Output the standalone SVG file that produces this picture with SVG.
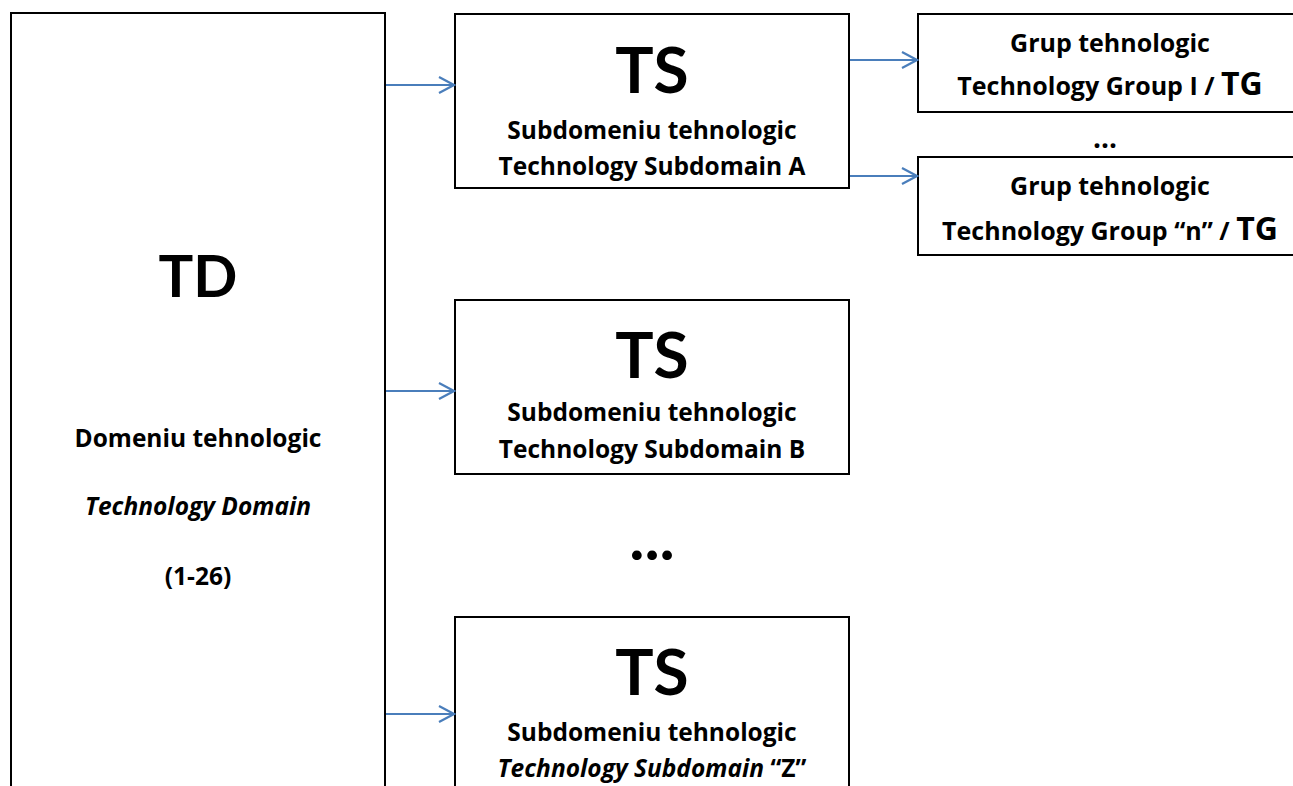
<svg xmlns="http://www.w3.org/2000/svg" width="1293" height="786" viewBox="0 0 1293 786">
<defs>
<marker id="ah" viewBox="0 0 20 20" refX="18" refY="10" markerWidth="20" markerHeight="20" markerUnits="userSpaceOnUse" orient="auto">
<path d="M3,2 L18,10 L3,18" fill="none" stroke="#4a7ebb" stroke-width="2.2"/>
</marker>
<style>
.box{fill:#fff;stroke:#000;stroke-width:2}
.t{font-family:"Open Sans","Liberation Sans",sans-serif;font-weight:bold;fill:#000;text-anchor:middle}
.m{font-size:24.5px}
.g{font-size:25px}
.big{font-family:Lato,"Open Sans",sans-serif;font-size:64px}
.i{font-style:italic}
.c{stroke:#4a7ebb;stroke-width:2.2;fill:none;marker-end:url(#ah)}
</style>
</defs>
<rect width="1293" height="786" fill="#fff"/>
<g id="td">
<rect class="box" x="11" y="13" width="374" height="790"/>
<text class="t big" x="198" y="297" style="font-size:58px">TD</text>
<text class="t m" x="198" y="447">Domeniu tehnologic</text>
<text class="t m i" x="198" y="515">Technology Domain</text>
<text class="t m" x="198" y="585">(1-26)</text>
</g>
<g id="tsA">
<rect class="box" x="455" y="14" width="394" height="174"/>
<text class="t big" x="652" y="93">TS</text>
<text class="t m" x="652" y="139">Subdomeniu tehnologic</text>
<text class="t m" x="652" y="175">Technology Subdomain A</text>
</g>
<g id="tsB">
<rect class="box" x="455" y="300" width="394" height="174"/>
<text class="t big" x="652" y="378">TS</text>
<text class="t m" x="652" y="421">Subdomeniu tehnologic</text>
<text class="t m" x="652" y="458">Technology Subdomain B</text>
</g>
<g id="dots1">
<text class="t big" x="652" y="560">...</text>
</g>
<g id="tsZ">
<rect class="box" x="455" y="617" width="394" height="190"/>
<text class="t big" x="652" y="695">TS</text>
<text class="t m" x="652" y="741">Subdomeniu tehnologic</text>
<text class="t m" x="652" y="777"><tspan class="i">Technology Subdomain </tspan>“Z”</text>
</g>
<g id="tgI">
<rect class="box" x="918" y="14" width="390" height="98"/>
<text class="t g" x="1110" y="52">Grup tehnologic</text>
<text class="t g" x="1110" y="95">Technology Group I / <tspan style="font-size:32px">TG</tspan></text>
</g>
<g id="dots2">
<text class="t" font-size="28" x="1105" y="148">...</text>
</g>
<g id="tgN">
<rect class="box" x="918" y="157" width="390" height="98"/>
<text class="t g" x="1110" y="195">Grup tehnologic</text>
<text class="t g" x="1110" y="240">Technology Group “n” / <tspan style="font-size:32px">TG</tspan></text>
</g>
<g id="connectors">
<line class="c" x1="386" y1="85" x2="454" y2="85"/>
<line class="c" x1="386" y1="391" x2="454" y2="391"/>
<line class="c" x1="386" y1="714" x2="454" y2="714"/>
<line class="c" x1="850" y1="60" x2="917" y2="60"/>
<line class="c" x1="850" y1="176" x2="917" y2="176"/>
</g>
</svg>
